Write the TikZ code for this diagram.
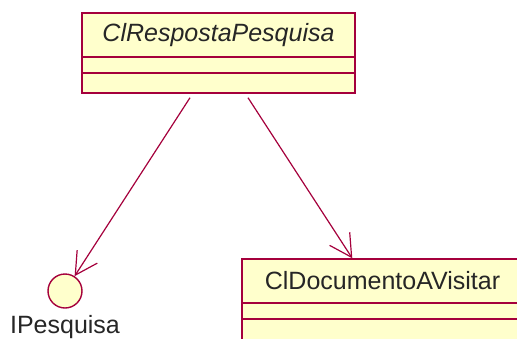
\documentclass[tikz,border=0pt]{standalone}
\usepackage{fontspec}
\setmainfont{Liberation Sans}
\usetikzlibrary{arrows.meta}
\definecolor{umlline}{RGB}{165,0,60}
\definecolor{umlfill}{RGB}{255,255,204}
\tikzset{
  classbox/.style={draw=umlline, fill=umlfill, line width=1.4pt, rectangle, inner sep=0pt},
  classname/.style={font=\fontsize{25}{28}\selectfont, text=black!85, inner sep=0pt},
  iface/.style={draw=umlline, fill=umlfill, line width=1.4pt, circle, inner sep=0pt, minimum size=34pt},
  assoc/.style={draw=umlline, line width=1.2pt, -{Straight Barb[length=22pt, width=24pt, line width=1.2pt]}}
}
\begin{document}
\begin{tikzpicture}[x=1pt, y=-1pt]
\useasboundingbox (0,0) rectangle (517,338);
\clip (0,0) rectangle (517,338);
\fill[white] (0,0) rectangle (517,338);

% ClRespostaPesquisa class
\node[classbox, minimum width=273pt, minimum height=80pt] (resp) at (218.5,53) {};
\draw[umlline, line width=1.4pt] (82,57) -- (355,57) (82,73) -- (355,73);
\node[classname, font=\fontsize{25}{28}\selectfont\itshape] (respname) at (218.5,35) {ClRespostaPesquisa};

% ClDocumentoAVisitar class (runs past the right and bottom edges)
\node[classbox, minimum width=281pt, minimum height=100pt] (doc) at (382.5,309) {};
\draw[umlline, line width=1.4pt] (242,303) -- (523,303) (242,319) -- (523,319);
\node[classname] (docname) at (382.5,281) {ClDocumentoAVisitar};

% IPesquisa interface
\node[iface] (ipesq) at (65,291) {};
\node[classname, anchor=base] (ipesqname) at (65,333) {IPesquisa};

% navigable associations
\draw[assoc] ([xshift=-28.5pt, yshift=-4pt]resp.south) -- (ipesq);
\draw[assoc] ([xshift=29.5pt, yshift=-4pt]resp.south) -- ([xshift=111pt]doc.north west);
\end{tikzpicture}
\end{document}
